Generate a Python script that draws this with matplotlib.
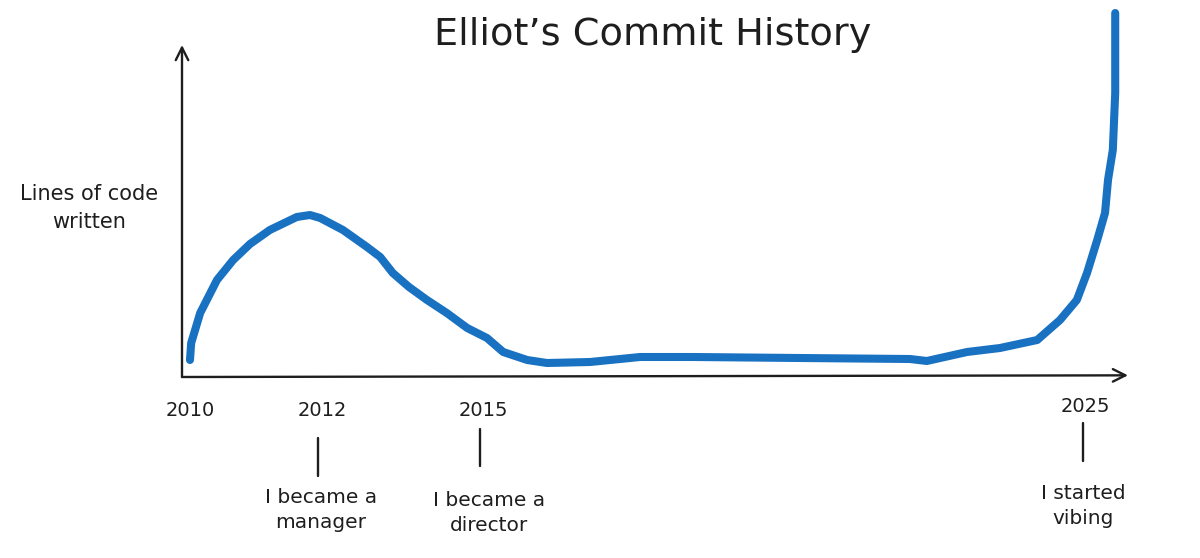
import matplotlib
matplotlib.use("Agg")
import matplotlib.pyplot as plt
import matplotlib.transforms as mtransforms

# ---- data ----
years = [2010.00, 2010.02, 2010.17, 2010.45, 2010.72, 2011.00, 2011.33, 2011.78, 2012.00,
         2012.17, 2012.55, 2012.95, 2013.17, 2013.38, 2013.65, 2013.95, 2014.28, 2014.62,
         2014.95, 2015.22, 2015.62, 2015.95, 2016.67, 2017.50, 2018.38, 2020.17, 2022.00,
         2022.28, 2022.95, 2023.50, 2024.12, 2024.50, 2024.78, 2024.95, 2025.12,
         2025.25, 2025.30, 2025.38, 2025.42, 2025.42]
lines_written = [17, 34, 64, 97, 117, 133, 147, 160, 162,
                 159, 147, 130, 120, 104, 90, 77, 64, 49,
                 39, 25, 17, 14, 15, 20, 20, 19, 18,
                 16, 25, 29, 37, 57, 77, 104, 137,
                 164, 197, 227, 284, 364]

tick_years = [2010, 2012, 2015, 2025]
tick_labels = ["2010", "2012", "2015", "2025"]
events_years = [2012, 2015, 2025]
events_text = ["I became a\nmanager", "I became a\ndirector", "I started\nvibing"]

title = "Elliot\u2019s Commit History"
ylabel = "Lines of code\nwritten"

# ---- figure ----
W, H = 1200, 558
fig = plt.figure(figsize=(W / 100, H / 100), dpi=100)
plt.rcParams['font.family'] = ['DejaVu Sans']
ink = '#1e1e1e'

ax = fig.add_axes([182 / W, (H - 377) / H, (1128 - 182) / W, (377 - 45) / H])
ax.set_xlim(2009.867, 2025.633)
ax.set_ylim(0, 332)
ax.axis('off')

blue = '#1971c2'
ax.plot(years, lines_written, color=blue, lw=5.8, solid_capstyle='round',
        solid_joinstyle='round', clip_on=False, zorder=3)

# axes arrows
arrow_kw = dict(arrowstyle='->,head_length=0.9,head_width=0.45', color=ink, lw=1.7,
                shrinkA=0, shrinkB=0)
ax.annotate('', xy=(0, 1), xytext=(0, 0), xycoords='axes fraction',
            arrowprops=arrow_kw, annotation_clip=False)
ax.annotate('', xy=(1, 0.005), xytext=(0, 0), xycoords='axes fraction',
            arrowprops=arrow_kw, annotation_clip=False)

PX = 0.72  # points per pixel at dpi 100

# year labels (pixel nudges relative to the data position)
nudges = [0, 12, -7, -5]
label_dy = [-34, -34, -34, -29]
for yr, lab, dx, dy in zip(tick_years, tick_labels, nudges, label_dy):
    ax.annotate(lab, xy=(yr, 0), xycoords='data', xytext=(dx * PX, dy * PX),
                textcoords='offset points', ha='center', va='center',
                fontsize=14, color=ink, annotation_clip=False)

# event markers + text (pixel offsets below the x axis)
ev_dx = [8, -10, -7]
ev_top = [61, 52, 46]
ev_bot = [99, 89, 84]
ev_text_dx = [11, -1, -7]
ev_text_dy = [133, 136, 129]
for yr, txt, dx, t0, t1, tdx, tdy in zip(events_years, events_text, ev_dx, ev_top,
                                         ev_bot, ev_text_dx, ev_text_dy):
    tr = mtransforms.offset_copy(ax.transData, fig=fig, x=dx * PX, y=0, units='points')
    tick_tr = mtransforms.blended_transform_factory(tr, ax.transAxes)
    ax.plot([yr, yr], [-t0 / 332, -t1 / 332], transform=tick_tr, color=ink,
            lw=1.7, clip_on=False, solid_capstyle='round')
    ax.annotate(txt, xy=(yr, 0), xycoords='data',
                xytext=(tdx * PX, -tdy * PX), textcoords='offset points',
                ha='center', va='center', fontsize=14.5, color=ink,
                linespacing=1.45, annotation_clip=False)

fig.text(653 / W, 1 - 35 / H, title, ha='center', va='center', fontsize=27.5,
         color=ink)
fig.text(89 / W, 1 - 208 / H, ylabel, ha='center', va='center', fontsize=15,
         color=ink, linespacing=1.45)

fig.savefig('out.png', dpi=100, facecolor='white')
